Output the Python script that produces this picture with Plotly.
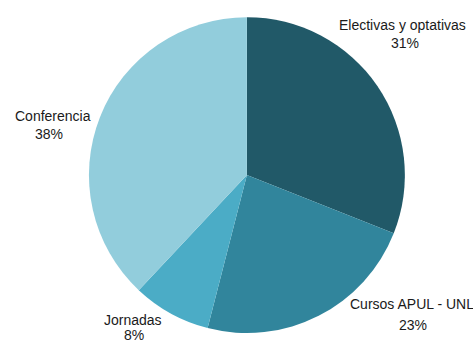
import plotly.graph_objects as go

categories = ["Electivas y optativas", "Cursos APUL - UNL", "Jornadas", "Conferencia"]
values = [31, 23, 8, 38]
colors = ["#215968", "#31859C", "#4BACC6", "#92CDDC"]

W, H = 473, 343

# pixel centres of the two label lines (name, percent) for each slice
name_pos = [(402, 25), (412, 304), (133, 320), (53, 116)]
pct_pos = [(405, 43), (413, 325), (134, 335), (49, 134)]

fig = go.Figure(go.Pie(
    labels=categories,
    values=values,
    marker=dict(colors=colors, line=dict(width=0)),
    sort=False,
    direction="clockwise",
    rotation=0,
    textinfo="none",
    hoverinfo="label+percent",
    showlegend=False,
    domain=dict(x=[0.188, 0.856], y=[0.029, 0.950]),
))

font = dict(family="Liberation Sans, Arial, sans-serif", size=14, color="#1a1a1a")
total = sum(values)
for name, v, (nx, ny), (px, py) in zip(categories, values, name_pos, pct_pos):
    for txt, x, y in ((name, nx, ny), (f"{round(100 * v / total)}%", px, py)):
        fig.add_annotation(
            x=x / W, y=1 - y / H, xref="paper", yref="paper",
            xanchor="center", yanchor="middle",
            text=txt, showarrow=False, font=font,
        )

fig.update_layout(
    width=W, height=H,
    margin=dict(l=0, r=0, t=0, b=0),
    paper_bgcolor="white", plot_bgcolor="white",
)

fig.write_html("out.html")
